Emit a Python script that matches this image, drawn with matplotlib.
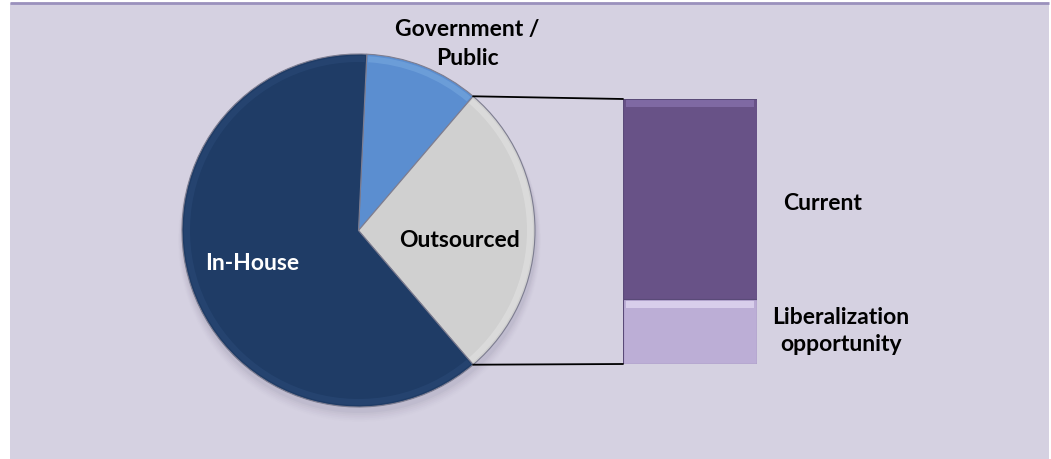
import numpy as np
import matplotlib
matplotlib.use("Agg")
import matplotlib.pyplot as plt
from matplotlib.patches import Rectangle, Circle, Wedge, ConnectionPatch

# ---- data ----
pie_labels = ["Government /\nPublic", "Outsourced", "In-House"]
pie_values = [10.5, 27.5, 62.0]
pie_colors = ["#5b8ed0", "#d0d0d0", "#1f3c66"]

bar_labels = ["Current", "Liberalization\nopportunity"]
bar_values = [75.5, 24.5]
bar_colors = ["#685287", "#bcaed6"]

plt.rcParams['font.family'] = ['Lato', 'DejaVu Sans']
FS = 16.5

W, H = 1051, 460
fig = plt.figure(figsize=(W / 100, H / 100), dpi=100)
fig.patch.set_facecolor("white")

ax = fig.add_axes([0, 0, 1, 1])
ax.set_xlim(0, W)
ax.set_ylim(0, H)
ax.set_aspect("equal")
ax.axis("off")

# panel background
ax.add_patch(Rectangle((10, 0), W - 12, H - 4, facecolor="#d5d1e1", edgecolor="none", zorder=0))
ax.plot([10, W - 2], [H - 4, H - 4], color="#9a91bc", lw=2, zorder=1, solid_capstyle="butt")

# pie geometry
cx, cy, R = 358.5, H - 231.5, 176.5
total = sum(pie_values)
gov, out = pie_values[0], pie_values[1]
start = 360 * out / total / 2 + 360 * gov / total

# soft shadow
for i, a in enumerate(np.linspace(0.05, 0.012, 6)):
    ax.add_patch(Circle((cx + 1, cy - 5 - i), R + 1 + i * 0.8, facecolor="#6a6080", alpha=a,
                        edgecolor="none", zorder=1))

wedges, _ = ax.pie(pie_values, colors=pie_colors, startangle=start, counterclock=False,
                   center=(cx, cy), radius=R, frame=True,
                   wedgeprops=dict(edgecolor="#7d7d90", linewidth=0.8))
for w in wedges:
    w.set_zorder(3)
# bevel-like rim
for w, c in zip(wedges, ["#7aaae0", "#e4e4e4", "#2a4a78"]):
    ax.add_patch(Wedge((cx, cy), R - 2, w.theta1 + 0.5, w.theta2 - 0.5,
                       width=6, facecolor=c, edgecolor="none", alpha=0.55, zorder=4))

ax.set_xlim(0, W)
ax.set_ylim(0, H)
ax.axis("off")

# labels
bold = dict(fontweight="bold", fontsize=FS, ha="center", va="center", zorder=6)
ax.text(467, H - 44, pie_labels[0], color="black", linespacing=1.45, **bold)
ax.text(459, H - 241, pie_labels[1], color="black", **bold)
ax.text(252, H - 263, pie_labels[2], color="white", **bold)

# bar axes
bx0, bx1, by_top, by_bot = 623, 757, 100, 365
bax = fig.add_axes([bx0 / W, (H - by_bot) / H, (bx1 - bx0) / W, (by_bot - by_top) / H])
bax.set_xlim(-0.5, 0.5)
btotal = sum(bar_values)
bax.set_ylim(0, btotal)
bax.axis("off")
bottom = 0
for i in [1, 0]:
    bax.bar(0, bar_values[i], width=1.0, bottom=bottom, color=bar_colors[i],
            edgecolor="#5a4a78", linewidth=0.8, zorder=3)
    bottom += bar_values[i]
# bevel bands at top of each segment
bax.bar(0, btotal * 0.025, width=0.96, bottom=btotal - btotal * 0.03, color="#8570ab",
        alpha=0.8, zorder=4, linewidth=0)
bax.bar(0, btotal * 0.028, width=0.96, bottom=bar_values[1] - btotal * 0.034, color="#dcd2ee",
        alpha=0.9, zorder=4, linewidth=0)

# connectors
a1 = np.deg2rad(start - 360 * gov / total)
a2 = np.deg2rad(start - 360 * (gov + out) / total)
p1 = (cx + R * np.cos(a1), cy + R * np.sin(a1))
p2 = (cx + R * np.cos(a2), cy + R * np.sin(a2))
for p, yb in [(p1, btotal), (p2, 0)]:
    con = ConnectionPatch(xyA=p, coordsA=ax.transData, xyB=(-0.5, yb), coordsB=bax.transData,
                          color="black", lw=1.3, zorder=2)
    fig.add_artist(con)

ax.text(783, H - 203, bar_labels[0], ha="left", va="center", fontweight="bold", fontsize=FS)
ax.text(841, H - 331, bar_labels[1], ha="center", va="center", fontweight="bold", fontsize=FS,
        linespacing=1.4)

fig.savefig("out.png", dpi=100)
